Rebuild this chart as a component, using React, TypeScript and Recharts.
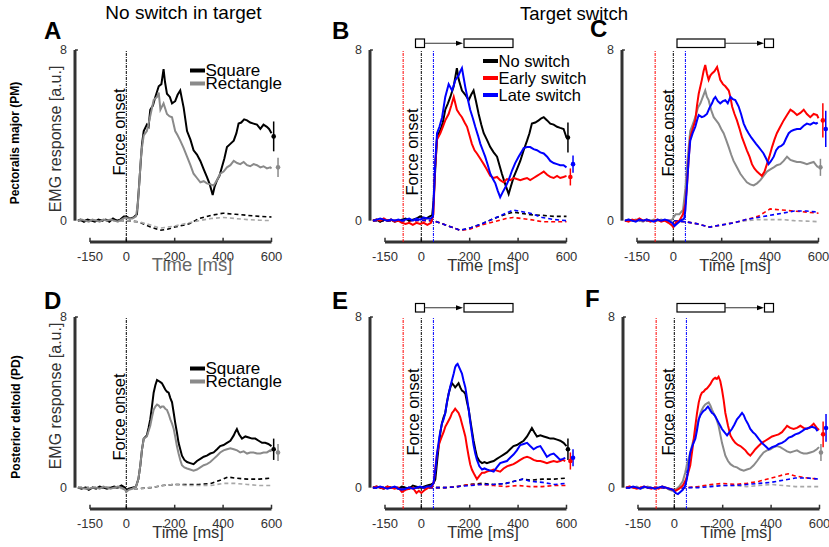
import React from 'react';
import { ComposedChart, Line, Scatter, ErrorBar, XAxis, YAxis, ReferenceLine } from 'recharts';

type Pt = [number, number];

const BLACK = '#000000';
const GRAY = '#8a8a8a';
const LGRAY = '#a8a8a8';
const RED = '#ff0000';
const BLUE = '#0000ff';
const FONT = '"Liberation Sans", Arial, Helvetica, sans-serif';

const xTicks = [-150, 0, 200, 400, 600];
const yTicks = [0, 8];
const switchEarly = -75; // ms, red marker
const switchLate = 50; // ms, blue marker

// ---- Panel A : PM, no switch ----
const pmSquare: Pt[] = [[-200,0],[-190,0.05],[-175,-0.05],[-160,0.05],[-145,0],[-130,-0.05],[-115,0.05],[-100,0],[-85,0.05],[-70,-0.05],[-55,0.1],[-40,0],[-25,0.05],[-10,0.2],[0,0.2],[15,0.1],[30,0.15],[44,0.3],[52,1.5],[58,2.5],[65,3.6],[72,4.2],[85,4.5],[92,4.4],[99,5.2],[110,5.4],[120,5.8],[134,6.3],[145,6.4],[154,7.1],[160,6.5],[168,5.95],[180,5.8],[189,5.5],[202,5.6],[212,5.9],[223,6.1],[230,5.7],[237,5.3],[251,4.2],[265,3.8],[278,3.3],[292,3.1],[306,2.8],[320,2.4],[333,2.05],[345,1.7],[357,1.2],[365,1.6],[375,1.9],[385,2.1],[395,2.5],[405,2.9],[416,3.45],[430,3.6],[444,3.75],[455,4.1],[464,4.55],[475,4.6],[487,4.75],[499,4.7],[512,4.6],[526,4.55],[540,4.5],[554,4.3],[567,4.5],[581,4.4],[590,4.3],[600,4.1]];
const pmRect: Pt[] = [[-200,0],[-185,0.05],[-170,0],[-155,-0.05],[-140,0.05],[-125,0],[-110,-0.05],[-95,0.05],[-80,0],[-65,0.05],[-50,0],[-35,-0.05],[-20,0.05],[-5,0.15],[10,0.1],[25,0.1],[40,0.2],[48,0.8],[55,2.0],[62,3.2],[72,4.0],[85,4.2],[99,4.9],[113,5.65],[127,5.8],[134,6.0],[141,5.2],[154,5.5],[168,5.0],[178,4.9],[189,4.85],[202,4.2],[212,4.0],[223,3.75],[237,3.4],[251,3.0],[265,2.6],[278,2.2],[292,2.0],[306,1.8],[320,1.85],[333,1.75],[347,1.7],[361,1.65],[375,1.9],[388,2.2],[402,2.3],[416,2.5],[430,2.6],[444,2.8],[458,2.7],[471,2.65],[485,2.75],[499,2.6],[512,2.55],[526,2.65],[540,2.6],[554,2.5],[567,2.55],[581,2.45],[595,2.5],[600,2.45]];
const pmSquareD: Pt[] = [[-200,0],[-150,0.02],[-100,0],[-50,0.02],[0,0],[50,-0.05],[100,-0.3],[140,-0.45],[170,-0.4],[200,-0.3],[260,-0.15],[300,0.1],[350,0.25],[400,0.35],[450,0.3],[500,0.25],[550,0.2],[600,0.17]];
const pmRectD: Pt[] = [[-200,0],[-150,0],[-100,0.02],[-50,0],[0,0],[50,-0.05],[100,-0.2],[140,-0.35],[200,-0.25],[260,-0.1],[300,0],[350,0.1],[400,0.15],[450,0.1],[500,0.05],[550,0.02],[600,0]];

// ---- Panel B : PM, small -> big ----
const pmBNo: Pt[] = [[-200,0],[-185,0.05],[-170,-0.05],[-155,0.05],[-140,0],[-125,0.05],[-110,-0.05],[-95,0],[-80,0.05],[-65,0.1],[-50,0],[-35,0.05],[-20,0.1],[-5,0.2],[5,0.15],[20,0.1],[35,0.2],[45,0.25],[51,0.95],[58,2.5],[65,3.9],[72,4.1],[79,4.25],[89,4.6],[99,5.2],[110,5.5],[120,5.8],[134,6.3],[147,7.15],[155,6.6],[168,6.1],[182,5.9],[196,5.65],[206,5.9],[216,6.1],[226,5.6],[237,5.0],[248,4.5],[258,4.1],[271,3.8],[285,3.45],[299,3.2],[313,3.0],[323,2.6],[333,2.2],[347,1.7],[361,1.25],[370,1.6],[382,2.05],[395,2.4],[409,2.8],[423,3.3],[437,3.75],[447,4.1],[457,4.55],[471,4.6],[485,4.7],[496,4.8],[506,4.85],[520,4.7],[533,4.55],[547,4.5],[561,4.4],[574,4.35],[588,4.3],[600,3.9]];
const pmBEarly: Pt[] = [[-200,0],[-185,0.05],[-170,0],[-155,0.1],[-140,0],[-125,0.05],[-110,-0.05],[-95,0],[-80,-0.1],[-65,-0.15],[-50,-0.1],[-35,-0.2],[-20,-0.1],[-5,-0.15],[10,-0.1],[25,-0.2],[40,-0.1],[50,0.3],[57,2.5],[65,3.8],[79,4.1],[89,4.4],[99,4.7],[113,5.0],[124,5.4],[134,5.8],[147,5.2],[158,5.0],[168,4.85],[179,4.6],[189,4.4],[199,4.0],[209,3.6],[220,3.3],[230,3.15],[244,2.9],[258,2.65],[271,2.4],[285,2.1],[299,2.0],[313,2.05],[326,1.9],[340,1.8],[354,1.95],[368,1.9],[382,2.0],[395,1.95],[409,1.9],[423,1.95],[437,2.0],[450,1.9],[464,2.0],[478,2.1],[492,2.2],[506,2.3],[520,2.15],[533,2.05],[547,2.0],[561,2.1],[574,2.0],[588,2.05],[600,2.1]];
const pmBLate: Pt[] = [[-200,0],[-185,0.05],[-170,0.1],[-155,0.05],[-140,0],[-125,0.05],[-110,0],[-95,0.05],[-80,0],[-65,0.05],[-50,0.1],[-35,0],[-20,0.1],[-5,0.05],[10,0.15],[25,0.1],[40,0.1],[48,0.2],[51,0.95],[58,2.8],[65,4.1],[75,4.4],[86,4.85],[99,5.8],[113,6.4],[127,6.1],[141,6.6],[154,6.8],[161,7.0],[168,7.15],[175,6.7],[182,6.25],[192,5.7],[202,5.2],[213,4.8],[223,4.4],[234,4.0],[244,3.6],[254,3.3],[264,3.0],[275,2.6],[285,2.2],[296,1.95],[306,1.75],[316,1.4],[326,1.1],[337,1.35],[347,1.55],[361,1.9],[375,2.35],[388,2.7],[402,3.0],[413,3.2],[423,3.4],[437,3.45],[450,3.45],[464,3.35],[478,3.3],[492,3.2],[506,3.15],[520,3.0],[533,2.8],[547,2.7],[561,2.65],[574,2.6],[588,2.6],[600,2.5]];
const pmBNoD: Pt[] = [[-200,0],[-100,0],[0,0.02],[50,0],[100,-0.2],[160,-0.45],[200,-0.35],[250,-0.15],[300,0.1],[350,0.3],[380,0.4],[450,0.28],[500,0.25],[550,0.2],[600,0.2]];
const pmBEarlyD: Pt[] = [[-200,0],[-100,0],[0,0],[50,0],[100,-0.2],[160,-0.45],[200,-0.4],[250,-0.2],[300,-0.05],[350,0.1],[380,0.15],[450,0.05],[500,-0.05],[550,-0.05],[600,-0.05]];
const pmBLateD: Pt[] = [[-200,0],[-100,0],[0,0.02],[50,0],[100,-0.2],[160,-0.45],[200,-0.35],[250,-0.15],[300,0.1],[350,0.35],[380,0.5],[450,0.35],[500,0.15],[550,0.05],[600,0]];

// ---- Panel C : PM, big -> small ----
const pmCNo: Pt[] = [[-200,0],[-185,0.05],[-170,0],[-155,0.05],[-140,0],[-125,-0.05],[-110,0.05],[-95,0],[-80,0.05],[-65,0],[-50,0.05],[-35,0],[-20,-0.05],[-5,0.05],[10,0.3],[25,0.3],[40,0.5],[50,1.5],[60,3.0],[70,4.2],[80,4.5],[91,4.85],[102,5.3],[112,5.5],[122,5.8],[132,6.1],[139,5.8],[146,5.65],[156,5.2],[167,4.85],[177,4.7],[187,4.55],[198,4.3],[208,4.1],[218,3.8],[229,3.45],[239,3.1],[249,2.8],[263,2.5],[277,2.2],[290,2.0],[304,1.8],[318,1.7],[332,1.65],[346,1.75],[360,1.9],[373,2.1],[387,2.3],[401,2.4],[415,2.5],[428,2.6],[442,2.65],[456,2.8],[470,3.0],[484,2.85],[497,2.8],[511,2.75],[525,2.75],[539,2.7],[552,2.65],[566,2.7],[580,2.75],[590,2.6],[598,2.5]];
const pmCEarly: Pt[] = [[-200,0],[-185,-0.05],[-170,0.05],[-155,0],[-140,0.1],[-125,0],[-110,0.05],[-95,-0.05],[-80,0],[-65,0.05],[-50,-0.05],[-35,0],[-20,-0.1],[-8,-0.2],[0,-0.3],[10,-0.1],[25,0],[40,0.3],[50,0.8],[56,1.55],[63,2.8],[70,3.9],[80,4.3],[91,4.7],[98,5.4],[105,5.95],[118,6.6],[125,7.0],[132,7.3],[139,6.9],[146,6.6],[153,6.8],[160,6.9],[170,7.0],[181,7.2],[188,6.9],[194,6.6],[205,6.4],[215,6.3],[229,6.1],[236,5.8],[243,5.35],[253,5.0],[263,4.7],[274,4.3],[284,3.9],[294,3.6],[304,3.3],[315,3.0],[325,2.65],[335,2.45],[346,2.3],[356,2.2],[366,2.1],[377,2.3],[387,2.65],[397,3.0],[408,3.45],[418,3.8],[428,4.1],[442,4.4],[456,4.7],[470,4.95],[484,5.2],[497,5.1],[511,4.95],[525,5.05],[539,5.2],[552,5.0],[566,4.85],[580,5.0],[594,4.95],[600,4.8]];
const pmCLate: Pt[] = [[-200,0],[-185,0.05],[-170,0],[-155,-0.05],[-140,0.05],[-125,0],[-110,0.05],[-95,0],[-80,-0.05],[-65,0.05],[-50,0],[-35,0.05],[-20,0],[-5,-0.1],[5,-0.25],[15,-0.15],[30,0],[45,0.1],[50,0.5],[56,1.55],[63,2.8],[70,3.75],[80,4.1],[91,4.4],[98,4.7],[105,4.95],[118,4.85],[128,4.9],[139,5.0],[150,5.3],[160,5.5],[167,5.7],[174,5.8],[184,5.6],[194,5.5],[205,5.6],[215,5.65],[225,5.5],[236,5.8],[246,5.7],[256,5.65],[263,5.5],[270,5.35],[280,5.0],[291,4.55],[301,4.3],[311,4.1],[322,3.9],[332,3.75],[342,3.6],[353,3.45],[363,3.3],[373,3.15],[384,2.9],[394,2.65],[404,2.8],[415,3.0],[425,3.3],[435,3.45],[446,3.5],[456,3.6],[466,3.85],[477,4.1],[487,4.2],[497,4.25],[511,4.3],[525,4.3],[539,4.45],[552,4.55],[566,4.5],[580,4.6],[590,4.55],[597,4.6]];
const pmCNoD: Pt[] = [[-200,0],[-100,0],[0,0],[50,-0.05],[100,-0.15],[150,-0.3],[200,-0.2],[250,-0.1],[300,0],[350,0.05],[400,0.05],[450,0.05],[500,0],[550,-0.02],[600,-0.05]];
const pmCEarlyD: Pt[] = [[-200,0],[-100,0],[0,0],[50,-0.05],[100,-0.15],[150,-0.3],[200,-0.2],[250,-0.1],[300,0.05],[350,0.2],[400,0.55],[450,0.5],[500,0.45],[550,0.4],[600,0.35]];
const pmCLateD: Pt[] = [[-200,0],[-100,0],[0,0],[50,-0.05],[100,-0.15],[150,-0.3],[200,-0.2],[250,-0.1],[300,0.05],[350,0.15],[400,0.25],[450,0.35],[500,0.45],[550,0.45],[600,0.4]];

// ---- Panel D : PD, no switch ----
const pdSquare: Pt[] = [[-200,0],[-185,-0.05],[-170,0],[-155,-0.1],[-140,0],[-125,-0.05],[-110,0.05],[-95,0],[-80,-0.05],[-65,0],[-50,0.05],[-35,0],[-20,0.1],[-5,0],[0,-0.15],[10,-0.05],[25,0],[40,0.05],[50,0.4],[58,1.05],[65,1.8],[72,2.3],[85,2.45],[92,2.8],[99,3.2],[106,3.8],[113,4.45],[120,4.8],[127,5.05],[134,5.0],[141,4.95],[147,4.9],[154,4.75],[161,4.6],[168,4.5],[175,4.45],[182,4.2],[189,4.0],[196,3.5],[202,3.05],[209,2.6],[216,2.1],[223,1.8],[230,1.5],[240,1.3],[251,1.2],[264,1.15],[278,1.1],[292,1.25],[306,1.35],[320,1.45],[333,1.5],[347,1.6],[361,1.65],[375,1.8],[388,1.95],[402,2.0],[416,2.1],[430,2.2],[444,2.45],[450,2.6],[457,2.75],[466,2.5],[478,2.3],[492,2.4],[506,2.35],[520,2.3],[533,2.3],[547,2.2],[561,2.1],[574,2.1],[587,2.05],[600,1.95]];
const pdRect: Pt[] = [[-200,0],[-185,0],[-170,-0.05],[-155,-0.05],[-140,0],[-125,0],[-110,-0.05],[-95,0.05],[-80,0],[-65,-0.05],[-50,0],[-35,0.05],[-20,0],[-5,-0.1],[0,-0.2],[10,-0.1],[25,-0.05],[40,0.05],[50,0.4],[58,1.05],[65,1.8],[72,2.3],[85,2.4],[99,2.9],[106,3.3],[113,3.65],[120,3.8],[127,3.9],[134,3.85],[141,3.75],[147,3.8],[154,3.8],[161,3.7],[168,3.65],[175,3.45],[182,3.2],[189,3.0],[196,2.75],[202,2.4],[209,1.95],[216,1.6],[223,1.3],[230,1.05],[240,0.95],[251,0.9],[264,0.85],[278,0.8],[292,0.85],[306,0.95],[320,1.05],[333,1.1],[347,1.2],[361,1.35],[375,1.5],[388,1.65],[402,1.75],[416,1.8],[430,1.85],[444,1.8],[458,1.75],[471,1.65],[485,1.7],[499,1.6],[512,1.65],[526,1.65],[540,1.6],[554,1.6],[567,1.65],[581,1.65],[595,1.75],[600,1.7]];
const pdSquareD: Pt[] = [[-200,0],[-100,0],[-50,0],[0,-0.05],[50,-0.05],[100,0],[150,0.1],[200,0.15],[250,0.15],[300,0.15],[350,0.2],[400,0.4],[420,0.5],[450,0.45],[500,0.4],[550,0.4],[600,0.45]];
const pdRectD: Pt[] = [[-200,0],[-100,0],[-50,0],[0,-0.05],[50,-0.05],[100,0],[150,0.1],[200,0.15],[250,0.1],[300,0.1],[350,0.1],[400,0.2],[450,0.2],[500,0.15],[550,0.1],[600,0.1]];

// ---- Panel E : PD, small -> big ----
const pdENo: Pt[] = [[-200,0],[-185,0.05],[-170,0],[-155,-0.05],[-140,0.05],[-125,0],[-110,0],[-95,-0.05],[-80,0.05],[-65,0],[-50,-0.05],[-35,0.1],[-20,0.05],[-5,0],[10,0.05],[25,0.1],[40,0.15],[50,0.2],[58,0.4],[65,1.2],[72,1.95],[79,2.6],[85,3.0],[92,3.3],[99,3.5],[106,4.0],[113,4.4],[120,4.7],[127,4.9],[134,4.8],[140,4.7],[147,4.8],[154,4.9],[161,4.7],[168,4.55],[175,4.5],[182,4.4],[189,4.0],[196,3.65],[202,3.2],[209,2.7],[216,2.2],[223,1.8],[230,1.45],[240,1.25],[251,1.15],[261,1.2],[271,1.15],[285,1.2],[299,1.25],[312,1.35],[326,1.45],[340,1.55],[354,1.65],[367,1.8],[381,1.95],[395,2.0],[409,2.1],[423,2.2],[437,2.4],[447,2.6],[457,2.8],[467,2.6],[478,2.4],[492,2.45],[506,2.4],[520,2.35],[533,2.3],[547,2.3],[561,2.25],[574,2.2],[588,2.1],[600,1.95]];
const pdEEarly: Pt[] = [[-200,0],[-185,0.05],[-170,0],[-155,-0.05],[-140,0.05],[-125,0],[-110,-0.05],[-95,0],[-80,-0.2],[-65,-0.1],[-50,-0.05],[-35,0],[-20,-0.25],[-10,-0.15],[0,-0.25],[15,-0.1],[30,0],[45,0.05],[52,0.3],[58,0.9],[65,1.6],[75,2.1],[85,2.4],[92,2.6],[99,2.85],[106,3.0],[113,3.15],[120,3.3],[127,3.5],[134,3.6],[140,3.7],[147,3.6],[154,3.5],[161,3.3],[168,3.0],[175,2.7],[182,2.4],[189,1.9],[196,1.45],[202,1.1],[209,0.85],[220,0.6],[230,0.4],[240,0.55],[251,0.7],[261,0.7],[271,0.75],[285,0.8],[299,0.85],[312,0.8],[326,0.75],[340,0.9],[354,1.0],[367,1.05],[381,1.1],[395,1.2],[409,1.3],[423,1.4],[437,1.45],[450,1.4],[464,1.3],[478,1.25],[492,1.25],[506,1.2],[519,1.15],[533,1.2],[547,1.25],[561,1.2],[574,1.25],[585,1.3],[595,1.25]];
const pdELate: Pt[] = [[-200,0],[-185,0],[-170,0.05],[-155,0],[-140,-0.05],[-125,0],[-110,0.05],[-95,-0.05],[-80,-0.1],[-65,-0.05],[-50,0],[-35,-0.05],[-20,0],[-5,0.05],[10,0],[25,0.05],[40,0.05],[50,0.2],[58,0.8],[65,1.6],[75,2.4],[85,3.0],[92,3.2],[99,3.5],[106,4.0],[113,4.4],[120,4.75],[127,5.05],[134,5.35],[140,5.65],[145,5.75],[150,5.8],[158,5.6],[168,5.35],[175,5.0],[182,4.7],[189,4.2],[196,3.65],[202,3.1],[209,2.55],[216,2.0],[223,1.6],[230,1.3],[240,1.0],[251,0.85],[261,0.9],[271,0.85],[285,0.8],[299,0.75],[312,0.95],[326,1.15],[340,1.2],[354,1.25],[367,1.4],[381,1.55],[395,1.75],[409,2.0],[423,2.05],[437,2.1],[450,1.95],[464,1.8],[478,1.9],[492,1.95],[506,1.7],[519,1.45],[533,1.55],[547,1.6],[561,1.45],[574,1.3],[585,1.35],[595,1.4]];
const pdENoD: Pt[] = [[-200,0],[-100,0],[0,0],[50,0],[100,0],[150,0.05],[200,0.15],[250,0.2],[300,0.15],[350,0.2],[400,0.35],[420,0.4],[450,0.35],[500,0.4],[550,0.4],[600,0.45]];
const pdEEarlyD: Pt[] = [[-200,0],[-100,0],[0,0],[50,0],[100,0],[150,0.05],[200,0.15],[250,0.15],[300,0.1],[350,0.05],[400,0.1],[450,0.05],[500,0.05],[550,0.1],[600,0.1]];
const pdELateD: Pt[] = [[-200,0],[-100,0],[0,0],[50,0],[100,0],[150,0.05],[200,0.1],[250,0.15],[300,0.15],[350,0.2],[400,0.35],[420,0.4],[450,0.3],[500,0.25],[550,0.15],[600,0.2]];

// ---- Panel F : PD, big -> small ----
const pdFNo: Pt[] = [[-200,0],[-185,0.05],[-170,0],[-155,0.05],[-140,-0.05],[-125,0],[-110,0.05],[-95,0],[-80,-0.05],[-65,0],[-50,0.05],[-35,0],[-20,-0.1],[-5,-0.15],[5,-0.1],[20,0.05],[35,0.3],[45,0.7],[55,1.2],[66,1.65],[76,2.1],[87,2.45],[94,2.9],[101,3.2],[108,3.5],[114,3.65],[121,3.8],[128,3.9],[135,3.95],[142,4.0],[149,3.85],[156,3.65],[162,3.5],[169,3.35],[176,3.15],[183,2.9],[190,2.5],[197,2.1],[204,1.8],[211,1.5],[222,1.25],[232,1.1],[245,1.0],[259,0.95],[273,0.85],[287,0.8],[300,0.85],[314,0.9],[328,1.05],[342,1.25],[355,1.45],[369,1.65],[383,1.75],[397,1.8],[411,1.9],[424,1.95],[438,1.9],[452,1.8],[466,1.7],[479,1.65],[493,1.7],[507,1.75],[521,1.65],[534,1.6],[548,1.6],[562,1.65],[576,1.7],[589,1.8],[598,1.9]];
const pdFEarly: Pt[] = [[-200,0],[-185,0.05],[-170,0],[-155,-0.05],[-140,0],[-125,0.05],[-110,0],[-95,-0.05],[-80,0],[-65,-0.05],[-50,0.05],[-35,0],[-20,-0.05],[-5,-0.1],[5,-0.15],[20,-0.05],[35,0.1],[45,0.3],[55,0.6],[66,1.05],[76,1.9],[87,2.9],[94,3.5],[101,4.0],[108,4.3],[114,4.45],[121,4.5],[128,4.6],[135,4.65],[142,4.75],[149,4.85],[156,5.0],[162,5.1],[169,5.15],[176,5.1],[183,5.2],[190,5.0],[197,4.6],[204,4.1],[211,3.5],[222,2.9],[232,2.45],[242,2.25],[252,2.1],[263,2.0],[273,1.95],[284,1.85],[294,1.75],[304,1.6],[314,1.5],[325,1.65],[335,1.8],[348,1.95],[362,2.1],[376,2.2],[390,2.3],[404,2.4],[418,2.45],[431,2.5],[445,2.6],[456,2.75],[466,2.9],[479,2.8],[493,2.75],[507,2.8],[521,2.9],[534,2.8],[548,2.75],[562,2.85],[576,3.0],[589,2.8],[598,2.7]];
const pdFLate: Pt[] = [[-200,0],[-185,0],[-170,0.05],[-155,0],[-140,-0.05],[-125,0.05],[-110,0],[-95,0],[-80,-0.05],[-65,0],[-50,0.05],[-35,0],[-20,-0.05],[-5,-0.1],[5,-0.25],[15,-0.3],[25,-0.2],[35,-0.1],[45,0.1],[52,0.4],[59,1.0],[66,1.65],[76,2.0],[87,2.3],[94,2.7],[101,3.2],[108,3.4],[114,3.5],[121,3.6],[128,3.65],[135,3.75],[139,3.8],[145,3.7],[150,3.6],[156,3.5],[162,3.45],[169,3.35],[176,3.2],[183,3.05],[190,2.9],[197,2.75],[207,2.6],[218,2.45],[228,2.6],[238,2.75],[248,2.95],[259,3.2],[270,3.35],[280,3.5],[287,3.4],[294,3.2],[304,3.0],[314,2.75],[325,2.6],[335,2.5],[348,2.3],[362,2.1],[376,1.95],[390,1.8],[404,1.9],[418,1.95],[431,2.05],[445,2.1],[459,2.2],[473,2.35],[486,2.4],[500,2.5],[514,2.55],[528,2.65],[541,2.75],[555,2.8],[569,2.85],[583,2.8],[592,2.65]];
const pdFNoD: Pt[] = [[-200,0],[-100,0],[-50,0],[0,-0.1],[50,0],[100,0.05],[150,0.1],[200,0.1],[250,0.1],[300,0.05],[350,0.1],[400,0.15],[450,0.1],[500,0.05],[550,0.05],[600,0.05]];
const pdFEarlyD: Pt[] = [[-200,0],[-100,0],[-50,0],[0,-0.1],[50,0],[100,0.05],[150,0.15],[200,0.2],[250,0.15],[300,0.2],[350,0.3],[400,0.45],[450,0.6],[470,0.65],[500,0.55],[550,0.45],[600,0.4]];
const pdFLateD: Pt[] = [[-200,0],[-100,0],[-50,0],[0,-0.1],[50,0],[100,0],[150,0.05],[200,0.1],[250,0.1],[300,0.15],[350,0.2],[400,0.25],[450,0.35],[500,0.45],[550,0.45],[600,0.4]];

// end-of-trace mean +/- error, [time, value, error]
const errA: Pt[] = [[609, 3.95], [627, 2.5]];
const errAsd = [0.7, 0.45];
const errB: Pt[] = [[606, 3.9], [616, 2.05], [627, 2.65]];
const errBsd = [0.7, 0.4, 0.4];
const errC: Pt[] = [[608, 2.5], [618, 4.7], [630, 4.3]];
const errCsd = [0.4, 0.8, 0.85];
const errD: Pt[] = [[609, 1.8], [627, 1.65]];
const errDsd = [0.5, 0.4];
const errE: Pt[] = [[606, 1.8], [616, 1.25], [627, 1.4]];
const errEsd = [0.5, 0.4, 0.4];
const errF: Pt[] = [[606, 1.65], [615, 2.5], [627, 2.8]];
const errFsd = [0.4, 0.6, 0.65];

interface Trace { pts: Pt[]; color: string; dashed?: boolean }

const MS_PX = 0.242;
const X_MIN = -212;
const X_MAX = 640;
const PLOT_W = (X_MAX - X_MIN) * MS_PX;
const PLOT_H = 192;
const Y_AXIS_W = 40;
const X_AXIS_H = 36;

const toRows = (a: Pt[]) => a.map(([t, v]) => ({ t, v }));

function Panel(props: {
  x0: number; top: number; traces: Trace[]; errs: Pt[]; errSd: number[]; errColors: string[];
  markers: { t: number; color: string }[]; bigTime?: boolean;
}) {
  const { x0, top, traces, errs, errSd, errColors, markers, bigTime } = props;
  const left = x0 + X_MIN * MS_PX - Y_AXIS_W;
  const width = Y_AXIS_W + PLOT_W + 14;
  const height = 10 + PLOT_H + X_AXIS_H;
  return (
    <div style={{ position: 'absolute', left, top: top - 10, width, height }}>
      <ComposedChart width={width} height={height} margin={{ top: 10, right: 14, left: 0, bottom: 0 }}>
        <XAxis
          dataKey="t" type="number" domain={[X_MIN, X_MAX]} allowDataOverflow ticks={xTicks} interval={0}
          axisLine={false} tickLine={false} height={X_AXIS_H} tickMargin={4}
          tick={{ fontSize: 13, fill: '#333', fontFamily: FONT }}
          label={{
            value: 'Time [ms]', position: 'insideBottom', offset: 7, dx: bigTime ? 14 : 10,
            fontSize: bigTime ? 18.5 : 16.5, fill: bigTime ? '#666' : '#333', fontFamily: FONT,
          }}
        />
        <YAxis
          type="number" domain={[-1, 8]} ticks={yTicks} interval={0} width={Y_AXIS_W}
          axisLine={false} tickLine={false} tick={{ fontSize: 12.5, fill: '#333', fontFamily: FONT }}
        />
        <ReferenceLine segment={[{ x: X_MIN, y: 0 }, { x: X_MIN, y: 8 }]} stroke="#333" strokeWidth={3} />
        <ReferenceLine segment={[{ x: X_MIN, y: 8 }, { x: X_MIN + 12, y: 8 }]} stroke="#333" strokeWidth={1.5} />
        <ReferenceLine segment={[{ x: -150, y: -1 }, { x: 600, y: -1 }]} stroke="#333" strokeWidth={3} />
        {xTicks.map((t) => (
          <ReferenceLine key={'tk' + t} segment={[{ x: t, y: -1 }, { x: t, y: -0.8 }]} stroke="#333" strokeWidth={1.5} />
        ))}
        {markers.map((m) => (
          <ReferenceLine key={'m' + m.t} x={m.t} stroke={m.color} strokeWidth={1} strokeDasharray="3 1 1 1" />
        ))}
        {traces.map((tr, i) => (
          <Line
            key={'l' + i} data={toRows(tr.pts)} dataKey="v" type="linear" stroke={tr.color}
            strokeWidth={tr.dashed ? 1.6 : 2} strokeDasharray={tr.dashed ? '4 3' : undefined}
            dot={false} isAnimationActive={false} legendType="none"
          />
        ))}
        {errs.map(([t, v], i) => (
          <Scatter
            key={'e' + i} data={[{ t, v, e: errSd[i] }]} dataKey="v" fill={errColors[i]} isAnimationActive={false}
            shape={(p: any) => <circle cx={p.cx} cy={p.cy} r={2.3} fill={errColors[i]} />}
          >
            <ErrorBar dataKey="e" direction="y" width={0} stroke={errColors[i]} strokeWidth={1.5} />
          </Scatter>
        ))}
      </ComposedChart>
    </div>
  );
}

function VText({ x, y, children, size = 16.5, weight = 'normal', fill = '#000' }: any) {
  return (
    <text x={x} y={y} transform={`rotate(-90 ${x} ${y})`} textAnchor="middle" dominantBaseline="central"
      fontSize={size} fontWeight={weight} fill={fill}>{children}</text>
  );
}

function Schematic({ y, reverse }: { y: number; reverse?: boolean }) {
  const h = 8.5;
  if (!reverse) {
    return (
      <g>
        <rect x={415.5} y={y} width={9} height={h} fill="#fff" stroke="#000" strokeWidth={1.2} />
        <line x1={424.5} y1={y + h / 2} x2={458} y2={y + h / 2} stroke="#333" strokeWidth={1} />
        <polygon points={`${463},${y + h / 2} ${456},${y + h / 2 - 2.5} ${456},${y + h / 2 + 2.5}`} fill="#000" />
        <rect x={464} y={y} width={49} height={h} fill="#fff" stroke="#000" strokeWidth={1.2} />
      </g>
    );
  }
  return (
    <g>
      <rect x={677} y={y} width={48} height={h} fill="#fff" stroke="#000" strokeWidth={1.2} />
      <line x1={725} y1={y + h / 2} x2={759} y2={y + h / 2} stroke="#333" strokeWidth={1} />
      <polygon points={`${764},${y + h / 2} ${757},${y + h / 2 - 2.5} ${757},${y + h / 2 + 2.5}`} fill="#000" />
      <rect x={764.5} y={y} width={9} height={h} fill="#fff" stroke="#000" strokeWidth={1.2} />
    </g>
  );
}

function LegendItem({ x, y, color, label, size = 17 }: { x: number; y: number; color: string; label: string; size?: number }) {
  return (
    <g>
      <rect x={x} y={y - 2} width={15} height={4} fill={color} />
      <text x={x + 15.5} y={y} dominantBaseline="central" fontSize={size} fill="#000">{label}</text>
    </g>
  );
}

const rowTop = [50, 317];
const noSwitchMarkers = [{ t: 0, color: BLACK }];
const switchMarkers = [{ t: switchEarly, color: RED }, { t: 0, color: BLACK }, { t: switchLate, color: BLUE }];

export default function App() {
  return (
    <div style={{ position: 'absolute', left: 0, top: 0, width: 829, height: 547, background: '#fff', fontFamily: FONT, overflow: 'hidden' }}>
      <Panel x0={126} top={rowTop[0]} bigTime markers={noSwitchMarkers}
        traces={[
          { pts: pmSquareD, color: BLACK, dashed: true }, { pts: pmRectD, color: LGRAY, dashed: true },
          { pts: pmSquare, color: BLACK }, { pts: pmRect, color: GRAY },
        ]}
        errs={errA} errSd={errAsd} errColors={[BLACK, GRAY]} />
      <Panel x0={421} top={rowTop[0]} markers={switchMarkers}
        traces={[
          { pts: pmBNoD, color: BLACK, dashed: true }, { pts: pmBEarlyD, color: RED, dashed: true }, { pts: pmBLateD, color: BLUE, dashed: true },
          { pts: pmBNo, color: BLACK }, { pts: pmBEarly, color: RED }, { pts: pmBLate, color: BLUE },
        ]}
        errs={errB} errSd={errBsd} errColors={[BLACK, RED, BLUE]} />
      <Panel x0={673.5} top={rowTop[0]} markers={switchMarkers}
        traces={[
          { pts: pmCNoD, color: LGRAY, dashed: true }, { pts: pmCEarlyD, color: RED, dashed: true }, { pts: pmCLateD, color: BLUE, dashed: true },
          { pts: pmCNo, color: GRAY }, { pts: pmCEarly, color: RED }, { pts: pmCLate, color: BLUE },
        ]}
        errs={errC} errSd={errCsd} errColors={[GRAY, RED, BLUE]} />
      <Panel x0={126} top={rowTop[1]} markers={noSwitchMarkers}
        traces={[
          { pts: pdSquareD, color: BLACK, dashed: true }, { pts: pdRectD, color: LGRAY, dashed: true },
          { pts: pdSquare, color: BLACK }, { pts: pdRect, color: GRAY },
        ]}
        errs={errD} errSd={errDsd} errColors={[BLACK, GRAY]} />
      <Panel x0={421} top={rowTop[1]} markers={switchMarkers}
        traces={[
          { pts: pdENoD, color: BLACK, dashed: true }, { pts: pdEEarlyD, color: RED, dashed: true }, { pts: pdELateD, color: BLUE, dashed: true },
          { pts: pdENo, color: BLACK }, { pts: pdEEarly, color: RED }, { pts: pdELate, color: BLUE },
        ]}
        errs={errE} errSd={errEsd} errColors={[BLACK, RED, BLUE]} />
      <Panel x0={674} top={rowTop[1]} markers={switchMarkers}
        traces={[
          { pts: pdFNoD, color: LGRAY, dashed: true }, { pts: pdFEarlyD, color: RED, dashed: true }, { pts: pdFLateD, color: BLUE, dashed: true },
          { pts: pdFNo, color: GRAY }, { pts: pdFEarly, color: RED }, { pts: pdFLate, color: BLUE },
        ]}
        errs={errF} errSd={errFsd} errColors={[GRAY, RED, BLUE]} />

      <svg width={829} height={547} style={{ position: 'absolute', left: 0, top: 0, pointerEvents: 'none' }} fontFamily={FONT}>
        <text x={183.5} y={19} textAnchor="middle" fontSize={19} fill="#000">No switch in target</text>
        <text x={574} y={20} textAnchor="middle" fontSize={18.5} fill="#000">Target switch</text>

        <text x={44} y={39} fontSize={24} fontWeight="bold">A</text>
        <text x={332} y={39} fontSize={24} fontWeight="bold">B</text>
        <text x={590} y={37} fontSize={24} fontWeight="bold">C</text>
        <text x={44} y={309} fontSize={24} fontWeight="bold">D</text>
        <text x={332} y={309} fontSize={24} fontWeight="bold">E</text>
        <text x={585} y={307} fontSize={24} fontWeight="bold">F</text>

        <VText x={15} y={143} size={12} weight="bold">Pectoralis major (PM)</VText>
        <VText x={16} y={417} size={12} weight="bold">Posterior deltoid (PD)</VText>
        <VText x={55} y={139} size={16} fill="#333">EMG response [a.u.]</VText>
        <VText x={55} y={396} size={16} fill="#333">EMG response [a.u.]</VText>

        <VText x={118.5} y={132}>Force onset</VText>
        <VText x={412} y={152}>Force onset</VText>
        <VText x={667.5} y={133}>Force onset</VText>
        <VText x={118.5} y={417}>Force onset</VText>
        <VText x={412.5} y={412}>Force onset</VText>
        <VText x={668} y={412}>Force onset</VText>

        <LegendItem x={190} y={70.5} color={BLACK} label="Square" />
        <LegendItem x={190} y={83.5} color={GRAY} label="Rectangle" />
        <LegendItem x={190} y={368.5} color={BLACK} label="Square" />
        <LegendItem x={190} y={381.5} color={GRAY} label="Rectangle" />
        <LegendItem x={483} y={61} color={BLACK} label="No switch" size={16.5} />
        <LegendItem x={483} y={78} color={RED} label="Early switch" size={16.5} />
        <LegendItem x={483} y={95} color={BLUE} label="Late switch" size={16.5} />

        <Schematic y={39} />
        <Schematic y={39} reverse />
        <Schematic y={303.5} />
        <Schematic y={303.5} reverse />
      </svg>
    </div>
  );
}
